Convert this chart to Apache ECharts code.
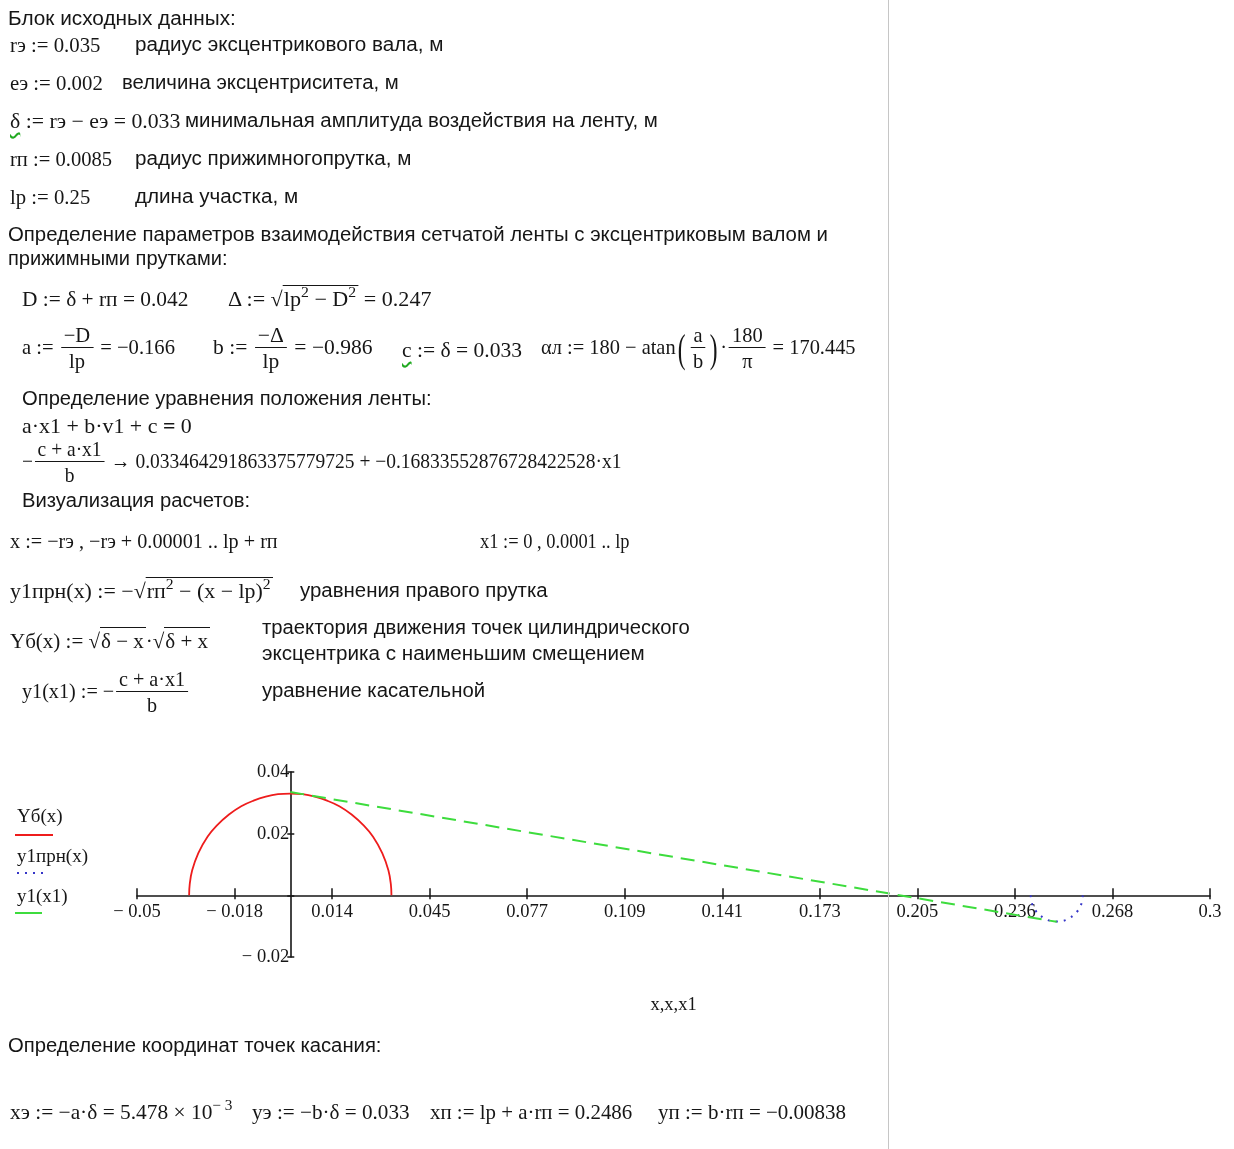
<!DOCTYPE html>
<html lang="ru">
<head>
<meta charset="UTF-8">
<title>Эксцентрик и касательная</title>
<script src="https://cdn.jsdelivr.net/npm/echarts/dist/echarts.min.js"></script>
<style>
    body { margin: 0; background: #fff; }
    #page { position: relative; width: 1234px; height: 1149px; overflow: hidden; color: #161616; }
    #chart { position: absolute; left: 0; top: 0; width: 1234px; height: 1149px; }
    .s, .m { position: absolute; white-space: nowrap; line-height: 22px; transform-origin: left center; }
    .s { font: 19.5px "Liberation Sans", Arial, sans-serif; }
    .m { font: 21px "Liberation Serif", "Times New Roman", serif; }
    .frac { display: inline-flex; flex-direction: column; align-items: center; vertical-align: middle; line-height: 27px; margin: 0 2px; }
    .frac > span:first-child { border-bottom: 1.5px solid #161616; padding: 0 3px; line-height: 24px; }
    .rt { border-top: 1.5px solid #161616; padding: 1px 2px 0 1px; }
    sup { font-size: 15px; vertical-align: 9px; line-height: 0; }
    .w { text-decoration: underline wavy #2a2; text-underline-offset: 4px; }
    .big { font-size: 40px; font-weight: 100; vertical-align: middle; line-height: 22px; transform: scaleX(0.6); display: inline-block; }
    #edge { position: absolute; left: 888px; top: 0; width: 1px; height: 1149px; background: #c6c6c6; }
</style>
</head>
<body>
<div id="page">
    <div id="chart"></div>

    <div class="s" data-w="228" style="left:8px;top:7px">Блок исходных данных:</div>
    <div class="m" data-w="90" style="left:10px;top:33px">rэ := 0.035</div>
    <div class="s" data-w="308" style="left:135px;top:33px">радиус эксцентрикового вала, м</div>
    <div class="m" data-w="93" style="left:10px;top:71px">eэ := 0.002</div>
    <div class="s" data-w="277" style="left:122px;top:71px">величина эксцентриситета, м</div>
    <div class="m" data-w="170" style="left:10px;top:109px"><span class="w">δ</span> := rэ − eэ = 0.033</div>
    <div class="s" data-w="473" style="left:185px;top:109px">минимальная амплитуда воздействия на ленту, м</div>
    <div class="m" data-w="102" style="left:10px;top:147px">rп := 0.0085</div>
    <div class="s" data-w="276" style="left:135px;top:147px">радиус прижимногопрутка, м</div>
    <div class="m" data-w="80" style="left:10px;top:185px">lp := 0.25</div>
    <div class="s" data-w="163" style="left:135px;top:185px">длина участка, м</div>

    <div class="s" data-w="820" style="left:8px;top:223px">Определение параметров взаимодействия сетчатой ленты с эксцентриковым валом и</div>
    <div class="s" data-w="220" style="left:8px;top:247px">прижимными прутками:</div>

    <div class="m" data-w="166" style="left:22px;top:287px">D := δ + rп = 0.042</div>
    <div class="m" data-w="204" style="left:228px;top:287px">Δ := √<span class="rt">lp<sup>2</sup> − D<sup>2</sup></span> = 0.247</div>

    <div class="m" data-w="153" style="left:22px;top:323px">a := <span class="frac"><span>−D</span><span>lp</span></span> = −0.166</div>
    <div class="m" data-w="159" style="left:213px;top:323px">b := <span class="frac"><span>−Δ</span><span>lp</span></span> = −0.986</div>
    <div class="m" data-w="120" style="left:402px;top:338px"><span class="w">c</span> := δ = 0.033</div>
    <div class="m" data-w="315" style="left:541px;top:323px">αл := 180 − atan<span class="big">(</span><span class="frac"><span>a</span><span>b</span></span><span class="big">)</span>·<span class="frac"><span>180</span><span>π</span></span> = 170.445</div>

    <div class="s" data-w="410" style="left:22px;top:387px">Определение уравнения положения ленты:</div>
    <div class="m" data-w="170" style="left:22px;top:414px">a·x1 + b·v1 + c <b>=</b> 0</div>
    <div class="m" data-w="600" style="left:22px;top:437px">−<span class="frac"><span>c + a·x1</span><span>b</span></span> → 0.033464291863375779725 + −0.16833552876728422528·x1</div>
    <div class="s" data-w="228" style="left:22px;top:489px">Визуализация расчетов:</div>

    <div class="m" data-w="268" style="left:10px;top:529px">x := −rэ , −rэ + 0.00001 .. lp + rп</div>
    <div class="m" data-w="150" style="left:480px;top:529px">x1 := 0 , 0.0001 .. lp</div>
    <div class="m" data-w="263" style="left:10px;top:579px">y1прн(x) := −√<span class="rt">rп<sup>2</sup> − (x − lp)<sup>2</sup></span></div>
    <div class="s" data-w="248" style="left:300px;top:579px">уравнения правого прутка</div>
    <div class="m" data-w="200" style="left:10px;top:629px">Yб(x) := √<span class="rt">δ − x</span>·√<span class="rt">δ + x</span></div>
    <div class="s" data-w="428" style="left:262px;top:616px">траектория движения точек цилиндрического</div>
    <div class="s" data-w="383" style="left:262px;top:642px">эксцентрика с наименьшим смещением</div>
    <div class="m" data-w="168" style="left:22px;top:667px">y1(x1) := −<span class="frac"><span>c + a·x1</span><span>b</span></span></div>
    <div class="s" data-w="223" style="left:262px;top:679px">уравнение касательной</div>

    <div class="s" data-w="373" style="left:8px;top:1034px">Определение координат точек касания:</div>
    <div class="m" data-w="222" style="left:10px;top:1100px">xэ := −a·δ = 5.478 × 10<sup>− 3</sup></div>
    <div class="m" data-w="158" style="left:252px;top:1100px">yэ := −b·δ = 0.033</div>
    <div class="m" data-w="202" style="left:430px;top:1100px">xп := lp + a·rп = 0.2486</div>
    <div class="m" data-w="188" style="left:658px;top:1100px">yп := b·rп = −0.00838</div>

    <div id="edge"></div>
</div>

<script>
// кривые
var arcX = [-0.033, -0.0328, -0.032, -0.030, -0.027, -0.024, -0.020, -0.016, -0.012, -0.008, -0.004, 0,
            0.004, 0.008, 0.012, 0.016, 0.020, 0.024, 0.027, 0.030, 0.032, 0.0328, 0.033];
var arcY = [0, 0.0036, 0.0081, 0.0137, 0.0190, 0.0226, 0.0262, 0.0289, 0.0307, 0.0320, 0.0328, 0.0330,
            0.0328, 0.0320, 0.0307, 0.0289, 0.0262, 0.0226, 0.0190, 0.0137, 0.0081, 0.0036, 0];
var rodX = [0.2415, 0.242, 0.243, 0.244, 0.246, 0.248, 0.250, 0.252, 0.254, 0.256, 0.257, 0.258, 0.2585];
var rodY = [0, -0.0029, -0.0048, -0.0060, -0.0075, -0.0083, -0.0085, -0.0083, -0.0075, -0.0060, -0.0048, -0.0029, 0];
var tangentX = [0, 0.25];
var tangentY = [0.0335, -0.0086];

var seriesNames = ['Yб(x)', 'y1прн(x)', 'y1(x1)'];
var seriesColors = ['#ee1c1c', '#3535c8', '#3ddc3d'];

var xMin = -0.05, xMax = 0.3;
var xTickLabels = ['− 0.05', '− 0.018', '0.014', '0.045', '0.077', '0.109', '0.141', '0.173', '0.205', '0.236', '0.268', '0.3'];
var yMin = -0.02, yMax = 0.04;
var yTickLabels = ['− 0.02', '', '0.02', '0.04'];
var xName = 'x,x,x1';

function zip(a, b) {
    return a.map(function (v, i) { return [v, b[i]]; });
}

// подгонка ширины текстовых блоков
document.querySelectorAll('[data-w]').forEach(function (el) {
    var w = parseFloat(el.getAttribute('data-w'));
    el.style.transform = 'scaleX(' + (w / el.offsetWidth) + ')';
});

var chart = echarts.init(document.getElementById('chart'));

// оси пересекаются в нуле, как в Mathcad
var gridLeft = 137, gridRight = 24, gridTop = 772, gridHeight = 185;
var gridWidth = chart.getWidth() - gridLeft - gridRight;
var zeroX = gridLeft + gridWidth * (0 - xMin) / (xMax - xMin);
var zeroY = gridTop + gridHeight * (yMax - 0) / (yMax - yMin);

var xStep = (xMax - xMin) / (xTickLabels.length - 1);
var yStep = (yMax - yMin) / (yTickLabels.length - 1);
var ink = '#161616';
var serif = '"Liberation Serif", "Times New Roman", serif';

var option = {
    animation: false,
    grid: { left: gridLeft, right: gridRight, top: gridTop, height: gridHeight },
    xAxis: [
        {
            type: 'value', min: xMin, max: xMax, interval: xStep, position: 'bottom',
            offset: -(gridTop + gridHeight - zeroY),
            axisLine: { onZero: false, lineStyle: { color: ink, width: 1.6 } },
            axisTick: { length: 4, lineStyle: { color: ink, width: 1.5 } },
            axisLabel: {
                margin: 7, color: ink, fontFamily: serif, fontSize: 18.5,
                formatter: function (v) { return xTickLabels[Math.round((v - xMin) / xStep)] || ''; }
            },
            splitLine: { show: false },
            name: xName, nameLocation: 'middle', nameGap: 100,
            nameTextStyle: { color: ink, fontFamily: serif, fontSize: 18.5 }
        },
        {
            type: 'value', min: xMin, max: xMax, interval: xStep, position: 'top',
            offset: -(zeroY - gridTop),
            axisLine: { show: false, onZero: false },
            axisTick: { length: 7, lineStyle: { color: ink, width: 1.5 } },
            axisLabel: { show: false },
            splitLine: { show: false }
        }
    ],
    yAxis: [
        {
            type: 'value', min: yMin, max: yMax, interval: yStep, position: 'left',
            offset: -(zeroX - gridLeft),
            axisLine: { onZero: false, lineStyle: { color: ink, width: 1.6 } },
            axisTick: { length: 3, lineStyle: { color: ink, width: 1.5 } },
            axisLabel: {
                margin: 1, color: ink, fontFamily: serif, fontSize: 18.5,
                formatter: function (v) { return yTickLabels[Math.round((v - yMin) / yStep)] || ''; }
            },
            splitLine: { show: false }
        },
        {
            type: 'value', min: yMin, max: yMax, interval: yStep, position: 'right',
            offset: -(gridLeft + gridWidth - zeroX),
            axisLine: { show: false, onZero: false },
            axisTick: { length: 4, lineStyle: { color: ink, width: 1.5 } },
            axisLabel: { show: false },
            splitLine: { show: false }
        }
    ],
    series: [
        {
            name: seriesNames[0], type: 'line', smooth: 0.4, showSymbol: false,
            lineStyle: { color: seriesColors[0], width: 1.8 },
            data: zip(arcX, arcY)
        },
        {
            name: seriesNames[1], type: 'line', smooth: 0.4, showSymbol: false,
            lineStyle: { color: seriesColors[1], width: 2, type: [2, 6] },
            data: zip(rodX, rodY)
        },
        {
            name: seriesNames[2], type: 'line', showSymbol: false,
            lineStyle: { color: seriesColors[2], width: 2, type: [14, 8] },
            data: zip(tangentX, tangentY)
        }
    ],
    graphic: [
        { type: 'text', left: 17, top: 808, style: { text: seriesNames[0], font: '19px ' + serif, fill: ink } },
        { type: 'line', shape: { x1: 15, y1: 835, x2: 53, y2: 835 }, style: { stroke: seriesColors[0], lineWidth: 1.8 } },
        { type: 'text', left: 17, top: 848, style: { text: seriesNames[1], font: '19px ' + serif, fill: ink } },
        { type: 'line', shape: { x1: 17, y1: 873, x2: 48, y2: 873 }, style: { stroke: seriesColors[1], lineWidth: 2, lineDash: [2, 6] } },
        { type: 'text', left: 17, top: 888, style: { text: seriesNames[2], font: '19px ' + serif, fill: ink } },
        { type: 'line', shape: { x1: 15, y1: 913, x2: 42, y2: 913 }, style: { stroke: seriesColors[2], lineWidth: 2 } }
    ]
};

chart.setOption(option);
</script>
</body>
</html>
